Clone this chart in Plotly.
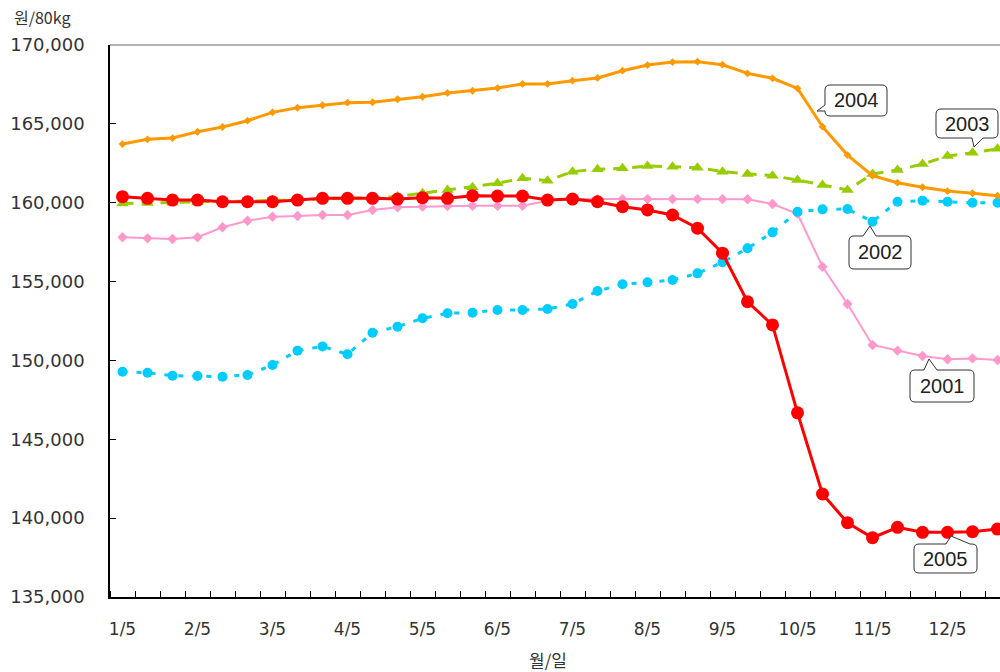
import plotly.graph_objects as go

# ---- data (원/80kg), sampled on the 5th, 15th, 25th of each month ----
months = ["1", "2", "3", "4", "5", "6", "7", "8", "9", "10", "11", "12"]
days = ["5", "15", "25"]
categories = [f"{m}/{d}" for m in months for d in days]
tick_labels = ["1/5", "2/5", "3/5", "4/5", "5/5", "6/5", "7/5", "8/5", "9/5", "10/5", "11/5", "12/5"]

y2001 = [157810, 157740, 157700, 157810, 158440, 158860, 159110, 159160, 159220, 159220, 159540, 159710,
         159750, 159790, 159810, 159810, 159810, 160130, 160230, 160230, 160230, 160230, 160230, 160230,
         160230, 160220, 159920, 159300, 155940, 153580, 150980, 150620, 150280, 150070, 150130, 150030]
y2002 = [149280, 149220, 149030, 149010, 148970, 149080, 149710, 150620, 150890, 150390, 151760, 152140,
         152670, 152990, 153030, 153200, 153200, 153260, 153580, 154400, 154830, 154950, 155100, 155520,
         156220, 157110, 158120, 159430, 159580, 159600, 158800, 160060, 160130, 160060, 160000, 160000]
y2003 = [159950, 159980, 159990, 160050, 160100, 160100, 160150, 160150, 160250, 160300, 160300, 160400,
         160600, 160810, 160980, 161230, 161550, 161400, 161970, 162120, 162180, 162330, 162280, 162220,
         161970, 161820, 161710, 161440, 161120, 160810, 161820, 162070, 162450, 162960, 163170, 163420]
y2004 = [163720, 164020, 164100, 164500, 164800, 165200, 165730, 166020, 166180, 166340, 166370, 166560,
         166720, 166960, 167100, 167270, 167530, 167530, 167740, 167910, 168370, 168730, 168920, 168940,
         168750, 168200, 167890, 167250, 164820, 163020, 161710, 161270, 160980, 160740, 160600, 160440]
y2005 = [160380, 160280, 160170, 160170, 160060, 160060, 160060, 160170, 160280, 160280, 160280, 160230,
         160320, 160280, 160440, 160420, 160420, 160170, 160230, 160060, 159750, 159540, 159220, 158380,
         156800, 153720, 152250, 146680, 141530, 139710, 138760, 139420, 139100, 139100, 139140, 139310]

xs = list(range(len(categories)))
tick_pos = [categories.index(t) for t in tick_labels]

fig = go.Figure()
fig.add_trace(go.Scatter(x=xs, y=y2001, name="2001", mode="lines+markers",
                         line=dict(color="#FF99CC", width=2),
                         marker=dict(symbol="diamond", size=8, color="#FF99CC")))
fig.add_trace(go.Scatter(x=xs, y=y2002, name="2002", mode="lines+markers",
                         line=dict(color="#00CCFF", width=3, dash="5px,9px"),
                         marker=dict(symbol="circle", size=10, color="#00CCFF")))
fig.add_trace(go.Scatter(x=xs, y=y2003, name="2003", mode="lines+markers",
                         line=dict(color="#99CC00", width=3, dash="11px,8px"),
                         marker=dict(symbol="triangle-up", size=11, color="#99CC00")))
fig.add_trace(go.Scatter(x=xs, y=y2004, name="2004", mode="lines+markers",
                         line=dict(color="#FF9900", width=3),
                         marker=dict(symbol="diamond", size=6, color="#FF9900")))
fig.add_trace(go.Scatter(x=xs, y=y2005, name="2005", mode="lines+markers",
                         line=dict(color="#FF0000", width=3),
                         marker=dict(symbol="circle", size=13, color="#FF0000")))

# ---- callout helper (pixel -> paper) ----
L, R, T, B = 110, 1000, 45, 597


def px(x, y):
    return f"{(x - L) / (R - L):.5f},{(B - y) / (B - T):.5f}"


def callout(x0, y0, x1, y1, side, tail, r=5):
    b1, tip, b2 = tail
    p = [f"M{px(x0 + r, y0)}"]
    if side == "top":
        p += [f"L{px(*b1)}", f"L{px(*tip)}", f"L{px(*b2)}"]
    p += [f"L{px(x1 - r, y0)}", f"Q{px(x1, y0)} {px(x1, y0 + r)}"]
    p += [f"L{px(x1, y1 - r)}", f"Q{px(x1, y1)} {px(x1 - r, y1)}"]
    if side == "bottom":
        p += [f"L{px(*b2)}", f"L{px(*tip)}", f"L{px(*b1)}"]
    p += [f"L{px(x0 + r, y1)}", f"Q{px(x0, y1)} {px(x0, y1 - r)}"]
    if side == "left":
        p += [f"L{px(*b2)}", f"L{px(*tip)}", f"L{px(*b1)}"]
    p += [f"L{px(x0, y0 + r)}", f"Q{px(x0, y0)} {px(x0 + r, y0)}", "Z"]
    fig.add_shape(type="path", path=" ".join(p), xref="paper", yref="paper",
                  fillcolor="white", line=dict(color="#333333", width=1), layer="above")


callouts = [
    ("2004", (825, 85, 887, 116), "left", [(825, 105), (817, 111), (825, 111)]),
    ("2003", (936, 109, 998, 138), "bottom", [(972, 138), (974, 147), (983, 138)]),
    ("2002", (849, 236, 911, 269), "top", [(863, 236), (870, 226), (876, 236)]),
    ("2001", (910, 370, 974, 402), "top", [(924, 370), (929, 359), (937, 370)]),
    ("2005", (914, 544, 977, 573), "top", [(946, 544), (951, 536), (970, 544)]),
]
for text, (x0, y0, x1, y1), side, tail in callouts:
    callout(x0, y0, x1, y1, side, tail)
    fig.add_annotation(text=text, xref="paper", yref="paper",
                       x=((x0 + x1) / 2 - L) / (R - L), y=(B - (y0 + y1) / 2) / (B - T),
                       showarrow=False, xanchor="center", yanchor="middle",
                       font=dict(family="Liberation Sans, Arial", size=20, color="#222222"))

# top frame line
fig.add_shape(type="line", xref="paper", yref="paper", x0=0, x1=1, y0=1, y1=1,
              line=dict(color="#999999", width=1.5))

fig.add_annotation(text="원/80kg", xref="paper", yref="paper",
                   x=(12 - L) / (R - L), y=(B - 17) / (B - T), xanchor="left", yanchor="middle",
                   showarrow=False, font=dict(family="Noto Sans CJK KR", size=16, color="#333333"))
fig.add_annotation(text="월/일", xref="paper", yref="paper",
                   x=(548 - L) / (R - L), y=(B - 659) / (B - T), xanchor="center", yanchor="middle",
                   showarrow=False, font=dict(family="Noto Sans CJK KR", size=17, color="#333333"))

fig.update_layout(
    width=1000, height=672,
    margin=dict(l=L, r=1000 - R, t=T, b=672 - B),
    paper_bgcolor="white", plot_bgcolor="white",
    showlegend=False,
    font=dict(family="DejaVu Sans", size=17, color="#333333"),
)
fig.update_xaxes(
    range=[-0.5, 35.1], tickvals=tick_pos, ticktext=tick_labels,
    ticks="", showgrid=False, zeroline=False,
    showline=True, linecolor="black", linewidth=1.5,
    minor=dict(tick0=0.5, dtick=1, ticks="inside", ticklen=6, tickcolor="black", showgrid=False),
    ticklabelstandoff=16,
    tickfont=dict(family="DejaVu Sans", size=17, color="#333333"),
)
fig.update_yaxes(
    range=[135000, 170000], dtick=5000, tickformat=",",
    ticks="inside", ticklen=6, tickcolor="black",
    showgrid=False, zeroline=False,
    showline=True, linecolor="black", linewidth=1.5,
    ticklabelstandoff=20,
    tickfont=dict(family="DejaVu Sans", size=18, color="#333333"),
)

fig.write_html(
    "out.html",
    config={"displayModeBar": False},
    post_script="document.body.style.margin='0';document.body.style.overflow='hidden';",
)
